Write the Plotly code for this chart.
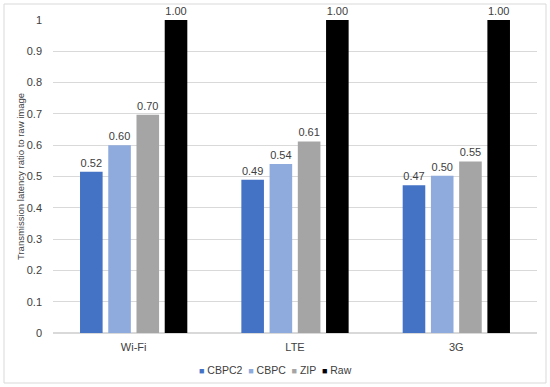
import plotly.graph_objects as go

categories = ["Wi-Fi", "LTE", "3G"]
series_names = ["CBPC2", "CBPC", "ZIP", "Raw"]
cbpc2 = [0.515, 0.49, 0.472]
cbpc = [0.60, 0.54, 0.502]
zip_ = [0.697, 0.612, 0.548]
raw = [1.0, 1.0, 1.0]
colors = ["#4472C4", "#8FAADC", "#A5A5A5", "#000000"]
y_ticks = [0, 0.1, 0.2, 0.3, 0.4, 0.5, 0.6, 0.7, 0.8, 0.9, 1]
y_tick_labels = ["0", "0.1", "0.2", "0.3", "0.4", "0.5", "0.6", "0.7", "0.8", "0.9", "1"]

W, H = 550, 387
L, R, T, B = 53, 13, 20, 54
pw, ph = W - L - R, H - T - B
FONT = "Liberation Sans Narrow, Liberation Sans, Arial"
TXT = "#404040"

fig = go.Figure()
for name, vals, c in zip(series_names, [cbpc2, cbpc, zip_, raw], colors):
    fig.add_trace(go.Bar(
        x=categories, y=vals, name=name, marker=dict(color=c, line=dict(width=0)),
        text=[f"{v:.2f}" for v in vals], textposition="outside",
        textfont=dict(size=11, color=TXT, family=FONT),
        cliponaxis=False, showlegend=False,
    ))

fig.update_layout(
    width=W, height=H,
    margin=dict(l=L, r=R, t=T, b=B),
    paper_bgcolor="white", plot_bgcolor="white",
    barmode="group", bargap=0.30, bargroupgap=0.2,
    font=dict(family=FONT, size=11, color=TXT),
    xaxis=dict(showline=False, ticks="", tickfont=dict(size=11, color=TXT),
               ticklabelstandoff=6, automargin=False),
    yaxis=dict(range=[0, 1], tickvals=y_ticks, ticktext=y_tick_labels,
               showgrid=True, gridcolor="#D9D9D9", gridwidth=1, zeroline=True,
               zerolinecolor="#D9D9D9", ticks="", ticklabelstandoff=10,
               automargin=False,
               title=dict(text="Transmission latency ratio to raw image",
                          font=dict(size=9.5, color=TXT), standoff=0)),
    showlegend=False,
)

legend_text = "  ".join(
    f"<span style='color:{c};font-size:9px'>■</span> {n}" for n, c in zip(series_names, colors)
)
fig.add_annotation(text=legend_text, xref="paper", yref="paper",
                   x=(275 - L) / pw, y=(H - B - 370) / ph,
                   xanchor="center", yanchor="middle", showarrow=False,
                   font=dict(size=10.5, color=TXT, family=FONT))

fig.add_shape(type="rect", xref="paper", yref="paper",
              x0=(4 - L) / pw, x1=(546 - L) / pw,
              y0=(H - B - 383) / ph, y1=(H - B - 4) / ph,
              line=dict(color="#D9D9D9", width=1), fillcolor="rgba(0,0,0,0)", layer="below")

fig.write_html("out.html", config={"displayModeBar": False},
               post_script="document.body.style.margin='0';")
